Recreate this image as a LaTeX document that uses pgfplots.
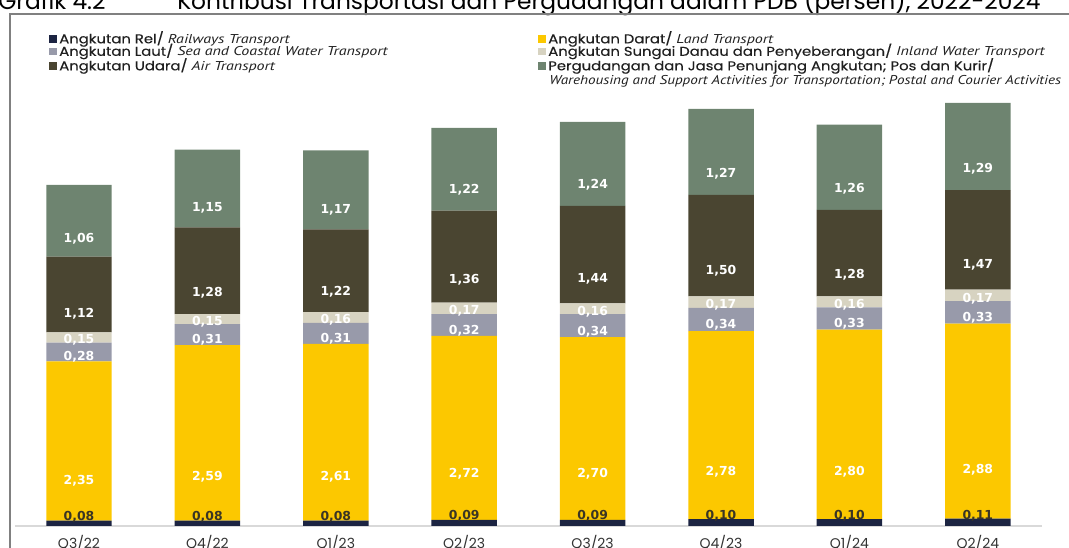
\documentclass[border=0pt]{standalone}
\usepackage{pgfplots}
\pgfplotsset{compat=1.18}
\usepackage{pgfplotstable}
\usepackage{fontspec}
\setmainfont{Poppins}
\newfontfamily\pop{Poppins}
\newfontfamily\popleg{Poppins}[FakeStretch=1.16, FakeBold=0.3]
\newfontfamily\ptsleg{PT Sans}[FakeStretch=1.25]
\newfontfamily\ptslegb{PT Sans}[FakeStretch=1.18]
\newfontfamily\dvs{DejaVu Sans}
\newcommand\lblfont{\dvs\bfseries\fontsize{9.3}{11}\selectfont}
\definecolor{crail}{HTML}{1C2442}
\definecolor{cland}{HTML}{FCC800}
\definecolor{csea}{HTML}{989AAA}
\definecolor{cinland}{HTML}{D7D3C1}
\definecolor{cair}{HTML}{4A4531}
\definecolor{cware}{HTML}{6E8470}
\definecolor{darklbl}{HTML}{3A3524}
\definecolor{frame}{HTML}{808080}

\pgfplotstableread{
x rail land sea inland air ware
0 0.08 2.35 0.28 0.15 1.12 1.06
1 0.08 2.59 0.31 0.15 1.28 1.15
2 0.08 2.61 0.31 0.16 1.22 1.17
3 0.09 2.72 0.32 0.17 1.36 1.22
4 0.09 2.70 0.34 0.16 1.44 1.24
5 0.10 2.78 0.34 0.17 1.50 1.27
6 0.10 2.80 0.33 0.16 1.28 1.26
7 0.11 2.88 0.33 0.17 1.47 1.29
}\datatab

\pgfplotsset{
  numlbl/.style={nodes near coords={\pgfmathprintnumber[fixed,fixed zerofill,precision=2,use comma,assume math mode=true]{\pgfplotspointmeta}}},
  mid/.style={
    numlbl,
    visualization depends on={\thisrow{#1} \as \segh},
    every node near coord/.append style={anchor=center, yshift={-0.25*\segh*50.775pt}, text=white, font=\lblfont, inner sep=0pt},
  },
}

\newcommand\legentry[4]{%
  \fill[#1] (#2-3.8,#3-3.8) rectangle ++(7.6,7.6);
  \node[anchor=base west, inner sep=0, font=\popleg\fontsize{9.6}{11}\selectfont, text=black!88] at (#2+6,#3-4.3) {#4};
}
\newcommand\engl[1]{{\ptsleg\itshape #1}}

\begin{document}
\begin{tikzpicture}[x=0.75pt,y=0.75pt]
\useasboundingbox (0,0) rectangle (1069,548);
\begin{scope}
\clip (0,0) rectangle (1069,548);
% title
\node[anchor=base west, inner sep=0, font=\pop\fontsize{17.5}{20}\selectfont] at (-2,538) {Grafik 4.2};
\node[anchor=base west, inner sep=0, font=\pop\fontsize{17.5}{20}\selectfont] at (177,538) {Kontribusi Transportasi dan Pergudangan dalam PDB (persen), 2022-2024};
% frame
\draw[frame, line width=1.4pt] (10,-5) -- (10,534) -- (1080,534);
% legend
\legentry{crail}{53}{509}{Angkutan Rel/ \engl{Railways Transport}}
\legentry{csea}{53}{496.5}{Angkutan Laut/ \engl{Sea and Coastal Water Transport}}
\legentry{cair}{53}{482}{Angkutan Udara/ \engl{Air Transport}}
\legentry{cland}{542}{509}{Angkutan Darat/ \engl{Land Transport}}
\legentry{cinland}{542}{496.5}{Angkutan Sungai Danau dan Penyeberangan/ \engl{Inland Water Transport}}
\legentry{cware}{542}{482}{Pergudangan dan Jasa Penunjang Angkutan; Pos dan Kurir/}
\node[anchor=base west, inner sep=0, font=\ptslegb\itshape\fontsize{9.6}{11}\selectfont, text=black!88] at (549,463) {Warehousing and Support Activities for Transportation; Postal and Courier Activities};

\begin{axis}[
  at={(11.1pt,16.5pt)}, anchor=south west,
  x=96.3pt, y=50.775pt,
  xmin=-0.5, xmax=7.5, ymin=0, ymax=7,
  ybar stacked, bar width=0.51,
  axis x line*=bottom, axis y line=none,
  x axis line style={draw=black!15, line width=0.8pt},
  xtick={0,...,7},
  xticklabels={Q3/22,Q4/22,Q1/23,Q2/23,Q3/23,Q4/23,Q1/24,Q2/24},
  major tick length=0pt,
  xticklabel style={font=\pop\fontsize{10.5}{12}\selectfont, text=black!80, anchor=center, yshift=-12.75pt},
  clip=false,
]
\addplot[fill=crail, draw=none, numlbl, every node near coord/.append style={anchor=south, inner sep=0.8pt, text=darklbl, font=\lblfont}] table[x=x,y=rail]{\datatab};
\addplot[fill=cland, draw=none, mid=land] table[x=x,y=land]{\datatab};
\addplot[fill=csea, draw=none, mid=sea] table[x=x,y=sea]{\datatab};
\addplot[fill=cinland, draw=none, mid=inland] table[x=x,y=inland]{\datatab};
\addplot[fill=cair, draw=none, mid=air] table[x=x,y=air]{\datatab};
\addplot[fill=cware, draw=none, mid=ware] table[x=x,y=ware]{\datatab};
\end{axis}
\end{scope}
\end{tikzpicture}
\end{document}
